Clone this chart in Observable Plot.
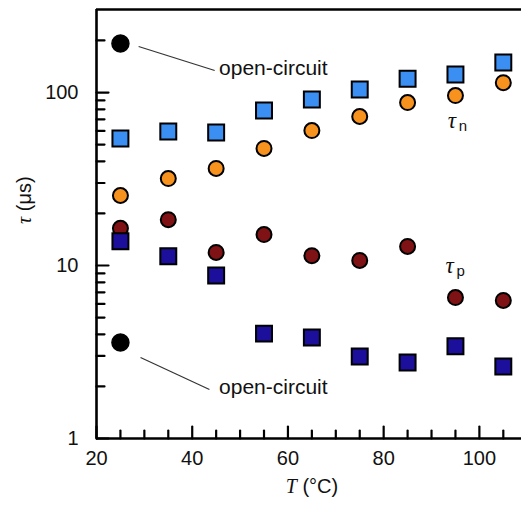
<!DOCTYPE html>
<html><head><meta charset="utf-8">
<script src="https://cdn.jsdelivr.net/npm/d3@7"></script>
<script src="https://cdn.jsdelivr.net/npm/@observablehq/plot@0.6"></script>
<style>body{margin:0;background:#fff}</style>
</head><body><div id="chart"></div>
<script>
const temps = [25,35,45,55,65,75,85,95,105];
const tauNSquare = [54.2,59.5,58.7,78.7,91.1,104,120,127,149];
const tauNCircle = [25.4,31.8,36.4,47.5,60.3,72.7,87.5,96,114];
const tauPCircle = [16.4,18.4,11.9,15.1,11.4,10.7,12.9,6.53,6.28];
const tauPSquare = [13.8,11.3,8.75,4.04,3.84,2.98,2.75,3.41,2.61];
const openT = [25,25];
const openTau = [192,3.59];

const xMajor = [20,40,60,80,100];
const xMinor = [25,30,35,45,50,55,65,70,75,85,90,95,105];
const yMajor = [1,10,100];
const yMinor = [2,3,4,5,6,7,8,9,20,30,40,50,60,70,80,90,200];

const ocLabels = ["open-circuit","open-circuit"];
const ocLinkX1 = [28.8,29.2];
const ocLinkY1 = [184.6,2.94];
const ocLinkX2 = [44.7,43.6];
const ocLinkY2 = [134,1.92];
const ocTextX = [45.6,45.6];
const ocTextY = [137.6,1.97];

const tauLabelSub = ["n","p"];
const tauLabelX = [93.4,92.9];
const tauLabelY = [68.9,10.0];

const colors = {nSq:"#3b8ef2", nCi:"#f7921f", pCi:"#7e1214", pSq:"#1c0f9c"};

const pts = (ys) => temps.map((t,i)=>({t, v: ys[i]}));
const line = {draw(ctx, l){ ctx.moveTo(0,0); ctx.lineTo(0,-l); }};
const sans = "Liberation Sans, Arial, sans-serif";
const serif = "Liberation Serif, Times New Roman, serif";

const links = ocLabels.map((s,i)=>({x1:ocLinkX1[i],y1:ocLinkY1[i],x2:ocLinkX2[i],y2:ocLinkY2[i],tx:ocTextX[i],ty:ocTextY[i],s}));
const taus = tauLabelSub.map((s,i)=>({s,x:tauLabelX[i],y:tauLabelY[i]}));

const plot = Plot.plot({
  width: 521, height: 506,
  marginLeft: 96, marginRight: 0, marginTop: 9, marginBottom: 68,
  x: {domain: [20, 108.8], axis: null},
  y: {type: "log", domain: [1, 302], axis: null},
  style: {fontFamily: sans, background: "white"},
  marks: [
    Plot.ruleY([302], {stroke: "black", strokeWidth: 2.6}),
    Plot.ruleY([1], {stroke: "black", strokeWidth: 2.6}),
    Plot.ruleX([20], {stroke: "black", strokeWidth: 2.6}),
    Plot.vector(xMajor, {x: d=>d, frameAnchor: "bottom", length: 12, anchor: "start", shape: line, stroke: "black", strokeWidth: 2.2}),
    Plot.vector(xMinor, {x: d=>d, frameAnchor: "bottom", length: 8, anchor: "start", shape: line, stroke: "black", strokeWidth: 2.2}),
    Plot.vector(yMajor, {y: d=>d, frameAnchor: "left", length: 12, rotate: 90, anchor: "start", shape: line, stroke: "black", strokeWidth: 2.2}),
    Plot.vector(yMinor, {y: d=>d, frameAnchor: "left", length: 8, rotate: 90, anchor: "start", shape: line, stroke: "black", strokeWidth: 2.2}),
    Plot.text(xMajor, {x: d=>d, frameAnchor: "bottom", dy: 26, text: d=>String(d), fontSize: 20, fill: "#111"}),
    Plot.text(yMajor, {y: d=>d, frameAnchor: "left", dx: -18, textAnchor: "end", text: d=>String(d), fontSize: 20, fill: "#111"}),
    Plot.text(["T (°C)"], {frameAnchor: "bottom", dx: 3, dy: 54, fontSize: 20, fill: "#111", className: "xlab"}),
    Plot.text(["τ (μs)"], {frameAnchor: "left", dx: -72, rotate: -90, fontSize: 20, fill: "#111", className: "ylab"}),
    Plot.link(links, {x1: "x1", y1: "y1", x2: "x2", y2: "y2", stroke: "#333", strokeWidth: 1.2}),
    Plot.text(links, {x: "tx", y: "ty", text: "s", textAnchor: "start", fontSize: 21, fill: "#111"}),
    Plot.text(taus, {x: "x", y: "y", text: ()=>"τ", textAnchor: "start", fontSize: 23, fontFamily: serif, fontStyle: "italic", fill: "#111"}),
    Plot.text(taus, {x: "x", y: "y", text: "s", textAnchor: "start", dx: 11, dy: 6, fontSize: 15, fill: "#111"}),
    Plot.dot(pts(tauNSquare), {x: "t", y: "v", symbol: "square", r: 9, fill: colors.nSq, stroke: "black", strokeWidth: 2}),
    Plot.dot(pts(tauNCircle), {x: "t", y: "v", r: 7.5, fill: colors.nCi, stroke: "black", strokeWidth: 2}),
    Plot.dot(pts(tauPCircle), {x: "t", y: "v", r: 7.5, fill: colors.pCi, stroke: "black", strokeWidth: 2}),
    Plot.dot(pts(tauPSquare), {x: "t", y: "v", symbol: "square", r: 9, fill: colors.pSq, stroke: "black", strokeWidth: 2}),
    Plot.dot(openT.map((t,i)=>({t, v: openTau[i]})), {x: "t", y: "v", r: 8.5, fill: "black", stroke: "black", strokeWidth: 1.5})
  ]
});

function styleLabel(sel, first, rest) {
  d3.select(plot).selectAll(sel + " text").each(function(){
    const t = d3.select(this);
    t.text(null);
    t.append("tspan").attr("font-style","italic").attr("font-family", serif).text(first);
    t.append("tspan").text(rest);
  });
}
styleLabel(".xlab", "T", " (°C)");
styleLabel(".ylab", "τ", " (μs)");

document.getElementById("chart").appendChild(plot);
</script>
</body></html>
